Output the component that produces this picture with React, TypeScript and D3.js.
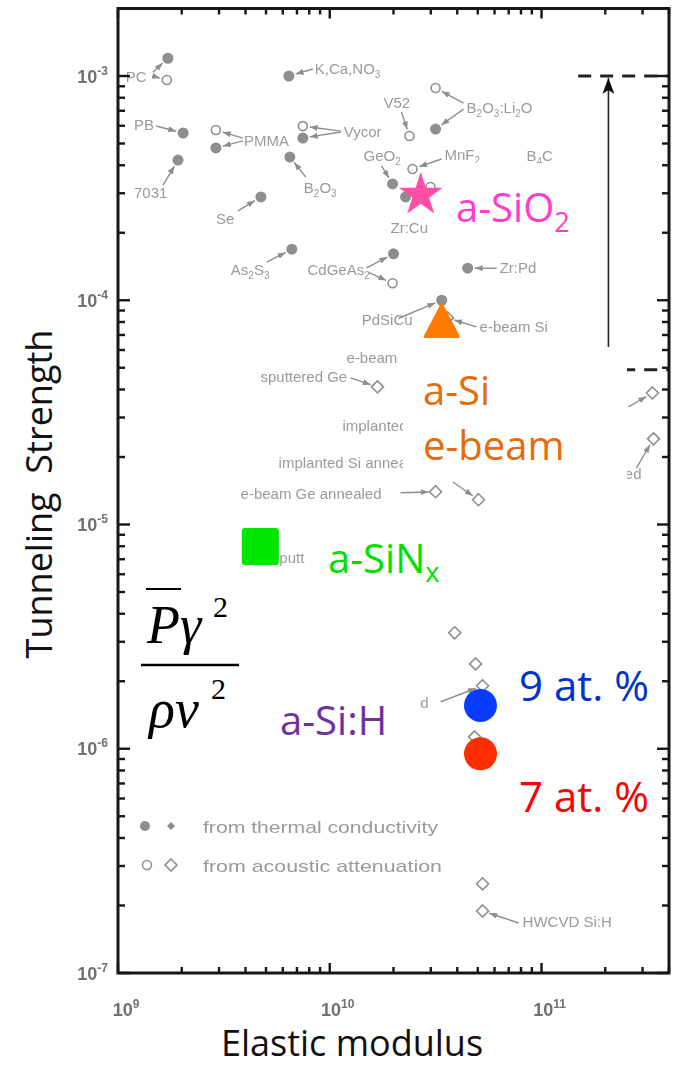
import * as d3 from "d3";

// scanned background data (grey): elastic modulus (Pa) vs tunneling strength
const greyNames = [
  "PC_f", "PC_o", "PB", "7031", "PMMA_o", "PMMA_f", "KCaNO3", "Vycor_o", "Vycor_f",
  "B2O3", "Se", "As2S3", "CdGeAs2_f", "CdGeAs2_o", "V52", "BLi_o", "BLi_f", "GeO2",
  "MnF2", "ZrCu_f", "ZrCu_o", "ZrPd", "PdSiCu", "eBeamSi", "sputGe", "eBeamGeAnn",
  "implSiAnn", "implGe1", "implGe2", "aSiH1", "aSiH2", "aSiH3", "aSiH4", "HW1", "HW2",
];
const greyE = [
  1.72e9, 1.7e9, 2.03e9, 1.92e9, 2.9e9, 2.9e9, 6.41e9, 7.46e9, 7.46e9,
  6.48e9, 4.73e9, 6.62e9, 2.0e10, 1.98e10, 2.38e10, 3.16e10, 3.16e10, 1.98e10,
  2.46e10, 2.28e10, 2.99e10, 4.48e10, 3.38e10, 3.6e10, 1.68e10, 3.16e10,
  5.04e10, 3.34e11, 3.38e11, 3.89e10, 4.88e10, 5.27e10, 4.83e10, 5.27e10, 5.27e10,
];
const greyP = [
  1.2e-3, 9.6e-4, 5.57e-4, 4.22e-4, 5.74e-4, 4.78e-4, 1.0e-3, 5.98e-4, 5.29e-4,
  4.35e-4, 2.89e-4, 1.69e-4, 1.61e-4, 1.19e-4, 5.4e-4, 8.84e-4, 5.8e-4, 3.3e-4,
  3.85e-4, 2.89e-4, 3.2e-4, 1.39e-4, 1.0e-4, 8.34e-5, 4.11e-5, 1.4e-5,
  1.29e-5, 3.86e-5, 2.41e-5, 3.29e-6, 2.39e-6, 1.91e-6, 1.13e-6, 2.5e-7, 1.89e-7,
];
// fc = filled circle, oc = open circle, od = open diamond
const greyKind = [
  "fc", "oc", "fc", "fc", "oc", "fc", "fc", "oc", "fc",
  "fc", "fc", "fc", "fc", "oc", "oc", "oc", "fc", "fc",
  "oc", "fc", "oc", "fc", "fc", "od", "od", "od",
  "od", "od", "od", "od", "od", "od", "od", "od", "od",
];

// highlighted samples
const hiNames = ["a-SiO2", "a-Si e-beam", "a-SiNx", "9 at. %", "7 at. %"];
const hiE = [2.69e10, 3.38e10, 4.7e9, 5.15e10, 5.15e10];
const hiP = [2.95e-4, 8.0e-5, 7.98e-6, 1.56e-6, 9.5e-7];

// range arrow on the right
const rangeE = 2.07e11;
const rangeDashFromE = 1.49e11;
const rangeHigh = 1e-3;
const rangeLow = 4.9e-5;

const xTickExps = [9, 10, 11];
const yTickExps = [-7, -6, -5, -4, -3];

// grey labels: text, point it hangs on, offset of text (px), anchor
// (some are only the fragments left visible around the white patches)
const labels: [string, string, number, number, string?][] = [
  ["PC", "PC_f", -42, 24],
  ["PB", "PB", -49, -3],
  ["7031", "7031", -44, 38],
  ["PMMA", "PMMA_o", 28, 16],
  ["K,Ca,NO_3", "KCaNO3", 26, -2],
  ["Vycor", "Vycor_o", 41, 11],
  ["B_2O_3", "B2O3", 14, 36],
  ["Se", "Se", -45, 27],
  ["As_2S_3", "As2S3", -61, 26],
  ["CdGeAs_2", "CdGeAs2_f", -86, 21],
  ["V52", "V52", -26, -28],
  ["B_2O_3:Li_2O", "BLi_o", 31, 25],
  ["GeO_2", "GeO2", -29, -23],
  ["MnF_2", "MnF2", 32, -9],
  ["B_4C", "MnF2", 114, -8],
  ["Zr:Cu", "ZrCu_f", -15, 36],
  ["Zr:Pd", "ZrPd", 32, 5],
  ["PdSiCu", "PdSiCu", -80, 25],
  ["e-beam Si", "eBeamSi", 32, 14],
  ["e-beam", "sputGe", -31, -24],
  ["sputtered Ge", "sputGe", -117, -5],
  ["implanted", "sputGe", -35, 44],
  ["implanted Si annea", "eBeamGeAnn", -157, -24],
  ["e-beam Ge annealed", "eBeamGeAnn", -195, 7],
  ["ed", "implGe2", -12, 40, "end"],
  ["d", "aSiH3", -54, 22, "end"],
  ["HWCVD Si:H", "HW2", 40, 16],
];

// grey arrows: target point, tail offset (px)
const arrows: [string, number, number][] = [
  ["PC_f", -15, 14], ["PC_o", -14, -4], ["PB", -27, -7], ["7031", -15, 25],
  ["PMMA_o", 27, 8], ["PMMA_f", 27, -7], ["KCaNO3", 24, -7], ["Vycor_o", 38, 5],
  ["Vycor_f", 38, -6], ["B2O3", 16, 20], ["Se", -23, 14], ["As2S3", -25, 13],
  ["CdGeAs2_f", -27, 14], ["CdGeAs2_o", -24, -11], ["V52", -8, -24], ["BLi_o", 28, 15],
  ["BLi_f", 28, -20], ["GeO2", -11, -18], ["MnF2", 29, -10], ["ZrPd", 29, 0],
  ["PdSiCu", -43, 18], ["eBeamSi", 29, 9], ["sputGe", -27, -9], ["eBeamGeAnn", -35, 1],
  ["implSiAnn", -26, -18], ["implGe1", -24, 14], ["implGe2", -17, 29], ["aSiH3", -42, 16],
  ["HW2", 36, 12],
];

const W = 677;
const H = 1067;
const x = d3.scaleLog().domain([1e9, 4e11]).range([118, 669]);
const y = d3.scaleLog().domain([1e-7, 2e-3]).range([973, 8.5]);

const GREY = "#8e8e8e";
const GREY_TXT = "#9a9a9a";

function rich(s: string, subSize: number, subDy: number) {
  const parts: { t: string; sub: boolean }[] = [];
  let buf = "";
  for (let k = 0; k < s.length; k++) {
    if (s[k] === "_" && k + 1 < s.length) {
      if (buf) parts.push({ t: buf, sub: false });
      buf = "";
      parts.push({ t: s[k + 1], sub: true });
      k++;
    } else buf += s[k];
  }
  if (buf) parts.push({ t: buf, sub: false });
  let inSub = false;
  return parts.map((p, i) => {
    let dy = 0;
    if (p.sub && !inSub) dy = subDy;
    if (!p.sub && inSub) dy = -subDy;
    inSub = p.sub;
    return (
      <tspan key={i} dy={dy || undefined} fontSize={p.sub ? subSize : undefined}>
        {p.t}
      </tspan>
    );
  });
}

function pos(name: string): [number, number] {
  const i = greyNames.indexOf(name);
  return [x(greyE[i]), y(greyP[i])];
}

export default function App() {
  const xt = x.ticks();
  const yt = y.ticks();
  const isMajor = (v: number) => Math.abs(Math.log10(v) - Math.round(Math.log10(v))) < 1e-6;
  const [x0, x1] = x.range();
  const [y0, y1] = y.range();
  const hx = hiE.map((e) => x(e));
  const hy = hiP.map((p) => y(p));

  return (
    <svg
      width={W}
      height={H}
      style={{ position: "absolute", left: 0, top: 0, background: "#fff" }}
    >
      <defs>
        <filter id="soft">
          <feGaussianBlur stdDeviation="0.45" />
        </filter>
        <marker
          id="ah"
          viewBox="0 0 8 6"
          refX="8"
          refY="3"
          markerWidth="8"
          markerHeight="6"
          markerUnits="userSpaceOnUse"
          orient="auto"
        >
          <path d="M0,0L8,3L0,6Z" fill={GREY} />
        </marker>
        <marker
          id="ahBlack"
          viewBox="0 0 16 12"
          refX="16"
          refY="6"
          markerWidth="16"
          markerHeight="12"
          markerUnits="userSpaceOnUse"
          orient="auto"
        >
          <path d="M0,0L16,6L0,12L4,6Z" fill="#111" />
        </marker>
      </defs>

      {/* scanned figure layer */}
      <g filter="url(#soft)">
        {/* arrows */}
        {arrows.map(([t, dx, dy], i) => {
          const [tx, ty] = pos(t);
          const sx = tx + dx;
          const sy = ty + dy;
          const len = Math.hypot(tx - sx, ty - sy);
          const ex = tx - ((tx - sx) / len) * 7;
          const ey = ty - ((ty - sy) / len) * 7;
          return (
            <line
              key={i}
              x1={sx}
              y1={sy}
              x2={ex}
              y2={ey}
              stroke={GREY}
              strokeWidth={1.4}
              markerEnd="url(#ah)"
            />
          );
        })}

        {/* points */}
        {greyNames.map((n, i) => {
          const cx = x(greyE[i]);
          const cy = y(greyP[i]);
          const k = greyKind[i];
          if (k === "fc") return <circle key={n} cx={cx} cy={cy} r={5.5} fill={GREY} />;
          if (k === "oc")
            return (
              <circle key={n} cx={cx} cy={cy} r={4.5} fill="#fff" stroke={GREY} strokeWidth={1.6} />
            );
          return (
            <path
              key={n}
              d={`M${cx},${cy - 6}L${cx + 6},${cy}L${cx},${cy + 6}L${cx - 6},${cy}Z`}
              fill="#fff"
              stroke={GREY}
              strokeWidth={1.6}
            />
          );
        })}

        {/* labels */}
        <g fontFamily="'Liberation Sans', Arial, sans-serif" fontSize={15} fill={GREY_TXT}>
          {labels.map(([t, base, dx, dy, anchor], i) => {
            const [bx, by] = pos(base);
            return (
              <text key={i} x={bx + dx} y={by + dy} textAnchor={anchor || "start"}>
                {rich(t, 10, 4)}
              </text>
            );
          })}
          {/* fragment of a label left between the green square and its patch */}
          <text x={hx[2] + 19} y={hy[2] + 16.5}>
            putte
          </text>
        </g>

        {/* legend */}
        <g fontFamily="'Liberation Sans', Arial, sans-serif" fontSize={17} fill={GREY_TXT}>
          <circle cx={145} cy={826} r={5} fill={GREY} />
          <path d="M171,822L175,826L171,830L167,826Z" fill={GREY} />
          <text x={203} y={833} textLength={235} lengthAdjust="spacingAndGlyphs">
            from thermal conductivity
          </text>
          <circle cx={147} cy={865} r={4.5} fill="#fff" stroke={GREY} strokeWidth={1.5} />
          <path
            d="M171,859L177,865L171,871L165,865Z"
            fill="#fff"
            stroke={GREY}
            strokeWidth={1.6}
          />
          <text x={203} y={872} textLength={239} lengthAdjust="spacingAndGlyphs">
            from acoustic attenuation
          </text>
        </g>

        {/* range indicator */}
        {[rangeHigh, rangeLow].map((p, i) => (
          <line
            key={i}
            x1={x(rangeDashFromE)}
            x2={x1}
            y1={y(p)}
            y2={y(p)}
            stroke="#222"
            strokeWidth={3}
            strokeDasharray="13 9"
          />
        ))}
        <line
          x1={x(rangeE)}
          x2={x(rangeE)}
          y1={y(rangeLow)}
          y2={y(rangeHigh) + 2}
          stroke="#222"
          strokeWidth={1.6}
          markerEnd="url(#ahBlack)"
        />

        {/* frame and ticks */}
        <rect
          x={x0}
          y={y1}
          width={x1 - x0}
          height={y0 - y1}
          fill="none"
          stroke="#151515"
          strokeWidth={3}
        />
        {xt.map((v, i) => {
          const len = isMajor(v) ? 10 : 6;
          const px = x(v);
          return (
            <g key={"xt" + i} stroke="#151515" strokeWidth={2.4}>
              <line x1={px} x2={px} y1={y0} y2={y0 - len} />
              <line x1={px} x2={px} y1={y1} y2={y1 + len} />
            </g>
          );
        })}
        {yt.map((v, i) => {
          const len = isMajor(v) ? 12 : 7;
          const py = y(v);
          return (
            <g key={"yt" + i} stroke="#151515" strokeWidth={2.4}>
              <line x1={x0} x2={x0 + len} y1={py} y2={py} />
              <line x1={x1} x2={x1 - len} y1={py} y2={py} />
            </g>
          );
        })}

        {/* tick labels */}
        <g fontFamily="'Liberation Sans', Arial, sans-serif" fontWeight="bold" fill="#707070">
          {yTickExps.map((e) => (
            <text key={e} x={108} y={y(Math.pow(10, e)) + 6.5} textAnchor="end" fontSize={18}>
              10
              <tspan dy={-8} fontSize={12}>
                {e}
              </tspan>
            </text>
          ))}
          {xTickExps.map((e) => (
            <text key={e} x={x(Math.pow(10, e)) + 8} y={1016} textAnchor="middle" fontSize={18}>
              10
              <tspan dy={-8} fontSize={12}>
                {e}
              </tspan>
            </text>
          ))}
        </g>
      </g>

      {/* white patches behind the overlay labels */}
      <g fill="#fff">
        <rect x={437} y={163} width={150} height={82} />
        <rect x={403} y={347} width={224} height={135} />
        <rect x={305} y={528} width={150} height={62} />
        <rect x={270} y={682} width={148} height={66} />
      </g>

      {/* highlighted samples */}
      <path
        transform={`translate(${hx[0]},${hy[0]})`}
        d={d3.symbol().type(d3.symbolStar).size(594)() || ""}
        fill="#ff4fa8"
      />
      <path
        transform={`translate(${hx[1]},${hy[1]})`}
        d={d3.line()([[0, -17], [-16.5, 14.5], [16.5, 14.5]]) + "Z"}
        fill="#ff7c00"
        stroke="#ff7c00"
        strokeWidth={3}
        strokeLinejoin="round"
      />
      <rect x={hx[2] - 18.5} y={hy[2] - 18.5} width={37} height={37} rx={3} fill="#00e600" />
      <circle cx={hx[3]} cy={hy[3]} r={16.5} fill="#0a3cff" />
      <circle cx={hx[4]} cy={hy[4]} r={16.5} fill="#ff2d00" />

      <g fontFamily="'Open Sans', sans-serif">
        <text x={456} y={222} fontSize={40} fill="#ff3dcc">
          {rich("a-SiO_2", 27, 10)}
        </text>
        <text x={423} y={405} fontSize={40} fill="#e46c0a">
          a-Si
        </text>
        <text x={423} y={460} fontSize={40} fill="#e46c0a">
          e-beam
        </text>
        <text x={328} y={573} fontSize={40} fill="#00e000">
          {rich("a-SiN_x", 27, 9)}
        </text>
        <text x={280} y={735} fontSize={40} fill="#7030a0">
          a-Si:H
        </text>
        <text x={519} y={701} fontSize={42} fill="#0033cc">
          {hiNames[3]}
        </text>
        <text x={519} y={812} fontSize={42} fill="#ff0000">
          {hiNames[4]}
        </text>
      </g>

      {/* formula */}
      <g fontFamily="'Liberation Serif', 'Times New Roman', serif" fill="#000">
        <text x={147} y={643} fontSize={54} fontStyle="italic">
          Pγ
        </text>
        <line x1={146} x2={181} y1={589} y2={589} stroke="#000" strokeWidth={2} />
        <text x={213} y={617} fontSize={30}>
          2
        </text>
        <line x1={141} x2={239} y1={665} y2={665} stroke="#000" strokeWidth={2.5} />
        <text x={149} y={727} fontSize={54} fontStyle="italic">
          ρv
        </text>
        <text x={211} y={699} fontSize={30}>
          2
        </text>
      </g>

      {/* axis titles */}
      <g fontFamily="'Open Sans', sans-serif" fontSize={36} fill="#111">
        <text x={352} y={1056} textAnchor="middle">
          Elastic modulus
        </text>
        <text
          transform="translate(52,494) rotate(-90)"
          textAnchor="middle"
          style={{ whiteSpace: "pre" }}
        >
          {"Tunneling  Strength"}
        </text>
      </g>
    </svg>
  );
}
